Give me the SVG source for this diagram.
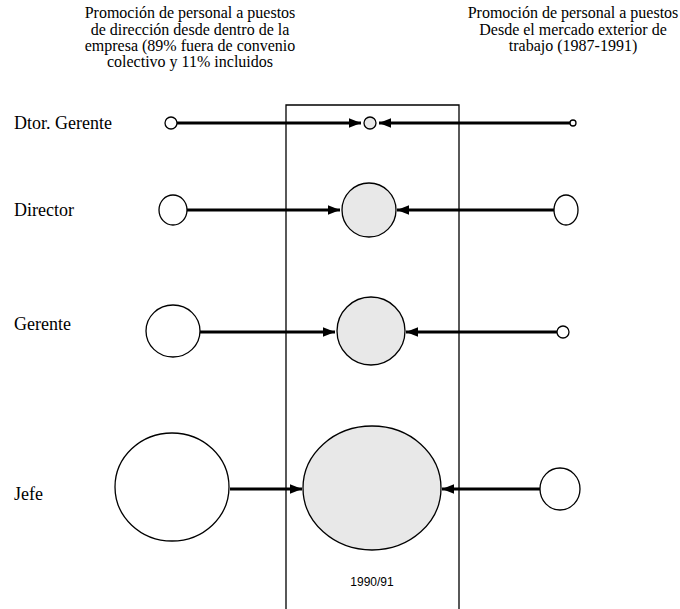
<svg xmlns="http://www.w3.org/2000/svg" width="680" height="609" viewBox="0 0 680 609">
<defs>
<marker id="ah" viewBox="0 0 10 10" refX="10" refY="5" markerWidth="4" markerHeight="4" orient="auto-start-reverse" markerUnits="strokeWidth"><path d="M0,1 L10,5 L0,9 z" fill="#000"/></marker>
<style>
.hdr{font-family:"Liberation Serif","Times New Roman",serif;font-size:16px;fill:#000;text-anchor:middle}
.lbl{font-family:"Liberation Serif","Times New Roman",serif;font-size:18px;fill:#000}
.yr{font-family:"Liberation Sans",Arial,sans-serif;font-size:12px;fill:#000;text-anchor:middle}
.o{fill:#fff;stroke:#000;stroke-width:1.3}
.g{fill:#e8e8e8;stroke:#000;stroke-width:1.3}
.c{stroke:#000;stroke-width:3;fill:none;marker-end:url(#ah)}
</style>
</defs>
<rect width="680" height="609" fill="#fff"/>
<g id="headers">
<text class="hdr" x="190" y="18">Promoción de personal a puestos</text>
<text class="hdr" x="190" y="35">de dirección desde dentro de la</text>
<text class="hdr" x="190" y="51">empresa (89% fuera de convenio</text>
<text class="hdr" x="190" y="67">colectivo y 11% incluidos</text>
<text class="hdr" x="573" y="18">Promoción de personal a puestos</text>
<text class="hdr" x="573" y="35">Desde el mercado exterior de</text>
<text class="hdr" x="573" y="51">trabajo (1987-1991)</text>
</g>
<g id="period">
<path d="M286,609 V105 H459 V609" fill="none" stroke="#000" stroke-width="1.3"/>
<text class="yr" x="372" y="586">1990/91</text>
</g>
<g id="labels">
<text class="lbl" x="14" y="129">Dtor. Gerente</text>
<text class="lbl" x="14" y="216">Director</text>
<text class="lbl" x="14" y="330">Gerente</text>
<text class="lbl" x="14" y="500">Jefe</text>
</g>
<g id="connectors">
<line class="c" x1="177" y1="123" x2="361" y2="123"/>
<line class="c" x1="570" y1="123" x2="379" y2="123"/>
<line class="c" x1="187" y1="210" x2="340" y2="210"/>
<line class="c" x1="554" y1="210" x2="397" y2="210"/>
<line class="c" x1="200" y1="332" x2="335" y2="332"/>
<line class="c" x1="557" y1="332" x2="406" y2="332"/>
<line class="c" x1="230" y1="489" x2="302" y2="489"/>
<line class="c" x1="540" y1="489" x2="442" y2="489"/>
</g>
<g id="dtor-interno"><ellipse class="o" cx="171" cy="123" rx="6" ry="6"/></g>
<g id="dtor-1990"><ellipse class="g" cx="370" cy="123" rx="6" ry="6"/></g>
<g id="dtor-externo"><ellipse class="o" cx="573" cy="123" rx="3" ry="3"/></g>
<g id="director-interno"><ellipse class="o" cx="173" cy="210" rx="14" ry="15"/></g>
<g id="director-1990"><ellipse class="g" cx="369" cy="210" rx="27" ry="27"/></g>
<g id="director-externo"><ellipse class="o" cx="566" cy="210" rx="12" ry="15"/></g>
<g id="gerente-interno"><ellipse class="o" cx="173" cy="331" rx="27" ry="26"/></g>
<g id="gerente-1990"><ellipse class="g" cx="371" cy="331" rx="34" ry="34"/></g>
<g id="gerente-externo"><ellipse class="o" cx="563" cy="332" rx="6" ry="6"/></g>
<g id="jefe-interno"><ellipse class="o" cx="172" cy="487" rx="57" ry="54"/></g>
<g id="jefe-1990"><ellipse class="g" cx="372" cy="488" rx="69" ry="62"/></g>
<g id="jefe-externo"><ellipse class="o" cx="560" cy="489" rx="20" ry="21"/></g>
</svg>
